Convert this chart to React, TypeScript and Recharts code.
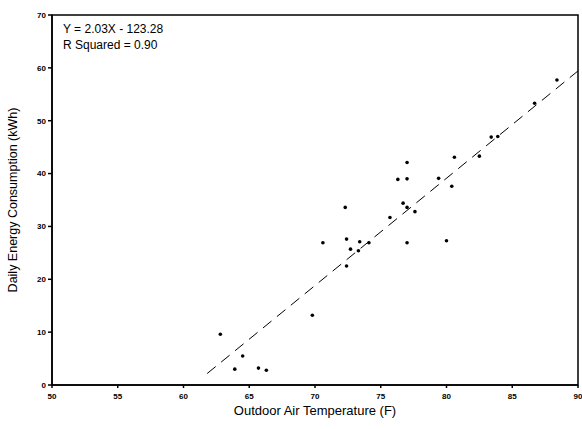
import React from 'react';
import { ScatterChart, Scatter, XAxis, YAxis, ReferenceArea, ReferenceLine, Label } from 'recharts';

const temperatures = [62.8, 63.9, 64.5, 65.7, 66.3, 69.8, 72.4, 72.7, 73.3, 70.6, 72.4, 73.4, 74.1, 72.3, 75.7, 77.0, 77.6, 77.0, 80.0, 76.3, 77.0, 77.0, 79.4, 80.4, 80.6, 82.5, 83.4, 83.9, 86.7, 88.4, 76.7];
const consumption = [9.6, 3.0, 5.5, 3.2, 2.8, 13.2, 22.5, 25.7, 25.4, 26.9, 27.6, 27.1, 26.9, 33.6, 31.7, 33.6, 32.8, 26.9, 27.3, 38.9, 39.0, 42.1, 39.1, 37.6, 43.1, 43.3, 46.9, 47.0, 53.3, 57.7, 34.4];
const xTicks = [50, 55, 60, 65, 70, 75, 80, 85, 90];
const yTicks = [0, 10, 20, 30, 40, 50, 60, 70];
const fitSlope = 2.03;
const fitIntercept = -123.28;
const fitRange = [61.8, 90];

const points = temperatures.map((t, i) => ({ x: t, y: consumption[i] }));
const fitSegment = fitRange.map((x) => ({ x, y: fitSlope * x + fitIntercept }));

const font = '"Liberation Sans", Arial, sans-serif';

const Dot = (props: any) => <circle cx={props.cx} cy={props.cy} r={1.8} fill="#000" />;

export default function App() {
  return (
    <div style={{ position: 'absolute', left: 0, top: 0, width: 582, height: 429, background: '#fff', fontFamily: font }}>
      <ScatterChart width={582} height={429} margin={{ top: 15, right: 4, bottom: 14, left: 0 }}>
        <XAxis
          type="number"
          dataKey="x"
          domain={[50, 90]}
          ticks={xTicks}
          interval={0}
          height={30}
          stroke="#000"
          strokeWidth={1.5}
          tickSize={3}
          tick={{ fontSize: 8, fontWeight: 700, fill: '#000', fontFamily: font, dy: 3 }}
        >
          <Label value="Outdoor Air Temperature (F)" position="insideBottom" offset={0} style={{ fontSize: 13, fill: '#000', fontFamily: font }} />
        </XAxis>
        <YAxis
          type="number"
          dataKey="y"
          domain={[0, 70]}
          ticks={yTicks}
          interval={0}
          width={52}
          stroke="#000"
          strokeWidth={1.5}
          tickSize={4}
          tick={{ fontSize: 8, fontWeight: 700, fill: '#000', fontFamily: font }}
        >
          <Label value="Daily Energy Consumption (kWh)" angle={-90} position="insideLeft" offset={13} style={{ fontSize: 12.5, fill: '#000', fontFamily: font, textAnchor: 'middle' }} />
        </YAxis>
        <ReferenceArea x1={50} x2={90} y1={0} y2={70} fill="none" stroke="#000" strokeWidth={1.5} />
        <ReferenceLine segment={fitSegment} stroke="#000" strokeWidth={1} strokeDasharray="11 7" />
        <Scatter data={points} fill="#000" shape={Dot} isAnimationActive={false} />
      </ScatterChart>
      <div style={{ position: 'absolute', left: 63, top: 21, fontSize: 12, lineHeight: '16px', color: '#000', whiteSpace: 'pre' }}>
        <div>Y = 2.03X - 123.28</div>
        <div>R Squared = 0.90</div>
      </div>
    </div>
  );
}
